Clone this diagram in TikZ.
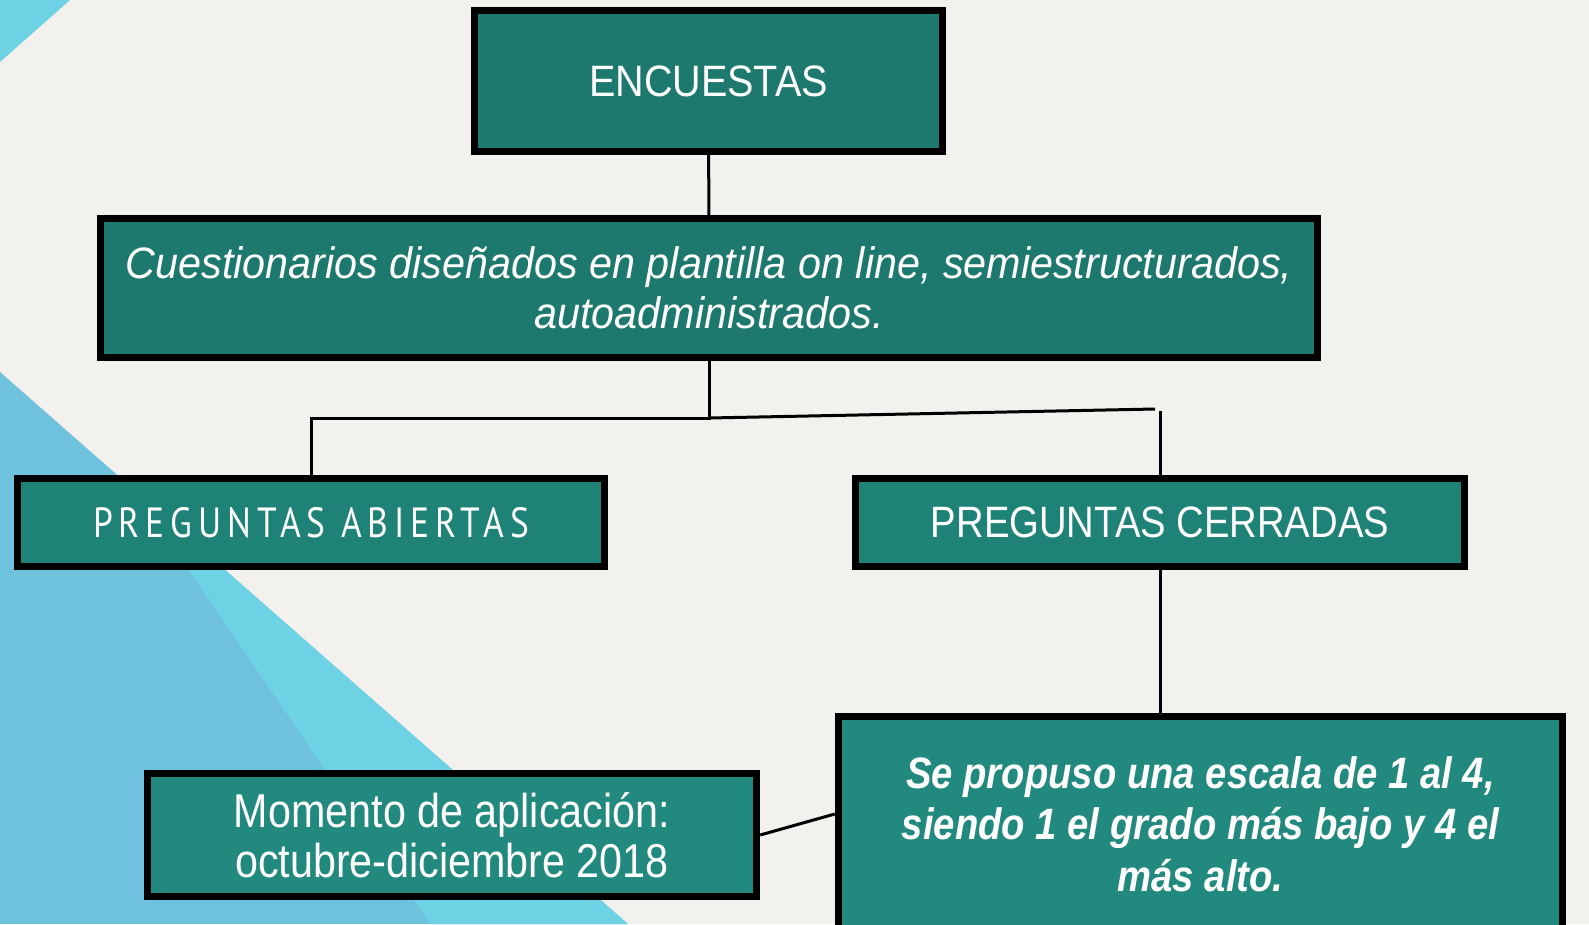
\documentclass[tikz,border=0pt]{standalone}
\usepackage{fontspec}
\setmainfont{Liberation Sans}[FakeStretch=0.87]
\newfontfamily\headfont{Liberation Sans}[FakeStretch=0.9]
\newfontfamily\wideitfont{Liberation Sans}[FakeStretch=0.94]
\newfontfamily\spacedfont{PT Sans}[LetterSpace=14,FakeStretch=0.84]
\usepackage{tikz}

\definecolor{paper}{HTML}{F2F1EE}
\definecolor{skyblue}{HTML}{6FC2DE}
\definecolor{cyanband}{HTML}{6DD3E4}
\definecolor{tealA}{HTML}{1D796D}
\definecolor{tealB}{HTML}{1F8276}
\definecolor{tealC}{HTML}{21897E}

\begin{document}
\begin{tikzpicture}[x=0.01cm,y=-0.01cm,
  box/.style={draw=black,line width=0.07cm,fill=#1,text=white,align=center,inner sep=0pt},
  link/.style={draw=black,line width=0.03cm}]
 \useasboundingbox (0,0) rectangle (1589,924);
 % background
 \fill[paper] (0,0) rectangle (1589,924);
 \fill[skyblue] (0,372) -- (628,924) -- (0,924) -- cycle;
 \fill[cyanband] (135,491) -- (628,924) -- (430,924) -- cycle;
 \fill[cyanband] (0,0) -- (70,0) -- (0,62) -- cycle;

  \draw (708.5,81) node[box=tealA,minimum width=4.68cm,minimum height=1.41cm,font=\fontsize{12.5}{14}\headfont] (enc) {ENCUESTAS};
  \draw (709,288) node[box=tealA,minimum width=12.17cm,minimum height=1.39cm,font=\fontsize{12.5}{14.2}\wideitfont\itshape] (cuest) {Cuestionarios diseñados en plantilla on line, semiestructurados,\\autoadministrados.};
    \draw (311,522.5) node[box=tealB,minimum width=5.87cm,minimum height=0.88cm,font=\fontsize{12}{14}\spacedfont] (abier) {PREGUNTAS ABIERTAS};
    \draw (1160,522.5) node[box=tealB,minimum width=6.09cm,minimum height=0.88cm,font=\fontsize{12.5}{14}\selectfont] (cerr) {PREGUNTAS CERRADAS};
	\draw (452,835) node[box=tealC,minimum width=6.09cm,minimum height=1.23cm,font=\fontsize{13.5}{14.2}\selectfont] (mom) {Momento de aplicación:\\octubre-diciembre 2018};
	\draw (1200.5,824) node[box=tealC,minimum width=7.24cm,minimum height=2.15cm,font=\fontsize{12.5}{14.6}\selectfont\bfseries\itshape] (prop) {Se propuso una escala de 1 al 4,\\siendo 1 el grado más bajo y 4 el\\más alto.};

  \coordinate (fork) at (709,418);
  \coordinate (gap) at (1155,409);
  \coordinate (cerrtop) at (1160,411);

     \draw[link] (enc) -- (cuest);
     \draw[link] (cuest.south) -- (fork) -| (abier.north);
     \draw[link] (fork) -- (gap);
     \draw[link] (cerr) -- (cerrtop);
     \draw[link] (cerr.south) -- (cerr.south |- prop.north);
     \draw[link] (mom.east) -- ([yshift=0.1cm]prop.west);

\end{tikzpicture}
\end{document}
